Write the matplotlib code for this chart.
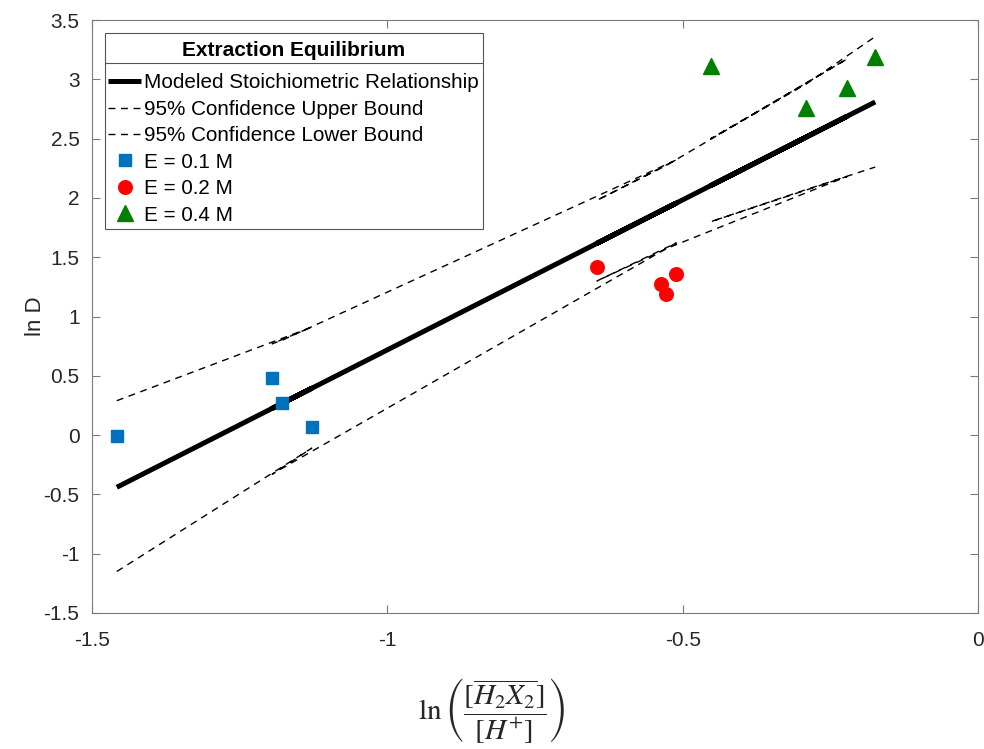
import matplotlib
matplotlib.use("Agg")
import matplotlib.pyplot as plt
from matplotlib.lines import Line2D
from matplotlib.patches import Rectangle

plt.rcParams['font.family'] = ['Liberation Sans', 'DejaVu Sans']
plt.rcParams['axes.unicode_minus'] = False
plt.rcParams['mathtext.fontset'] = 'stix'

# Measurements, in the order they were recorded (grouped by extractant concentration)
x_e01 = [-1.458, -1.128, -1.195, -1.178]
lnD_e01 = [-0.01, 0.07, 0.48, 0.27]
x_e02 = [-0.511, -0.645, -0.537, -0.529]
lnD_e02 = [1.36, 1.42, 1.27, 1.19]
x_e04 = [-0.222, -0.452, -0.291, -0.174]
lnD_e04 = [2.93, 3.11, 2.76, 3.19]

# Model and 95% confidence bounds evaluated at each measurement, same order
model_fit = [-0.44, 0.395, 0.225, 0.268, 1.956, 1.617, 1.890, 1.910, 2.687, 2.105, 2.513, 2.809]
upper_bound = [0.29, 0.91, 0.77, 0.80, 2.32, 1.98, 2.25, 2.27, 3.17, 2.50, 2.96, 3.36]
lower_bound = [-1.15, -0.11, -0.33, -0.28, 1.62, 1.30, 1.55, 1.57, 2.18, 1.80, 2.07, 2.26]

x_all = x_e01 + x_e02 + x_e04

xticks = [-1.5, -1, -0.5, 0]
xtick_labels = ['-1.5', '-1', '-0.5', '0']
yticks = [-1.5, -1, -0.5, 0, 0.5, 1, 1.5, 2, 2.5, 3, 3.5]
ytick_labels = ['-1.5', '-1', '-0.5', '0', '0.5', '1', '1.5', '2', '2.5', '3', '3.5']

W, H = 984, 749
fig = plt.figure(figsize=(W / 100, H / 100), dpi=100)
ax = fig.add_axes([92 / W, 1 - 613 / H, 886 / W, 593 / H])

ax.plot(x_all, model_fit, color='black', lw=3.6, solid_capstyle='butt',
        label='Modeled Stoichiometric Relationship', zorder=3)
ax.plot(x_all, upper_bound, color='black', lw=1.0, ls=(0, (5, 4)),
        label='95% Confidence Upper Bound', zorder=2)
ax.plot(x_all, lower_bound, color='black', lw=1.0, ls=(0, (5, 4)),
        label='95% Confidence Lower Bound', zorder=2)
ax.plot(x_e01, lnD_e01, ls='none', marker='s', ms=8.6, color='#0072BD',
        mec='#0072BD', label='E = 0.1 M', zorder=4)
ax.plot(x_e02, lnD_e02, ls='none', marker='o', ms=9.8, color='#FF0000',
        mec='#FF0000', label='E = 0.2 M', zorder=4)
ax.plot(x_e04, lnD_e04, ls='none', marker='^', ms=12, color='#008000',
        mec='#008000', label='E = 0.4 M', zorder=4)

ax.set_xlim(-1.5, 0)
ax.set_ylim(-1.5, 3.5)
ax.set_xticks(xticks)
ax.set_xticklabels(xtick_labels)
ax.set_yticks(yticks)
ax.set_yticklabels(ytick_labels)

spine_color = '#7a7a7a'
for s in ax.spines.values():
    s.set_color(spine_color)
    s.set_linewidth(0.8)
ax.tick_params(direction='in', length=6, width=0.8, color=spine_color,
               top=True, right=True, labelsize=15, labelcolor='#262626')
ax.tick_params(axis='y', pad=9)
ax.tick_params(axis='x', pad=13)

ax.set_ylabel('ln D', fontsize=16, color='#262626', labelpad=-2)

fig.text(492 / W, 1 - 711 / H,
         r'$\ln\left(\dfrac{[\overline{H_2X_2}]}{[H^{+}]}\right)$',
         fontsize=21, ha='center', va='center', color='#262626')

# Legend frame with a rule under the title
frame_color = '#555555'
fig.add_artist(Rectangle((105 / W, 1 - 229 / H), 378 / W, 196 / H,
                         transform=fig.transFigure, facecolor='white',
                         edgecolor=frame_color, lw=0.8, zorder=4.5))
fig.add_artist(Line2D([105 / W, 483 / W], [1 - 63 / H, 1 - 63 / H],
                      transform=fig.transFigure, color=frame_color, lw=0.8,
                      zorder=4.6))

handles, labels = ax.get_legend_handles_labels()
leg = fig.legend(handles, labels, loc='upper left',
                 bbox_to_anchor=(108 / W, 1 - 41 / H),
                 bbox_transform=fig.transFigure, borderaxespad=0,
                 fontsize=14.9, frameon=False, handlelength=1.6,
                 handletextpad=0.12, labelspacing=0.36, borderpad=0,
                 title='Extraction Equilibrium',
                 title_fontproperties={'weight': 'bold', 'size': 15})
leg.get_title().set_color('black')
leg._legend_box.sep = 9.6
leg.set_zorder(5)

fig.savefig('out.png', dpi=100)
